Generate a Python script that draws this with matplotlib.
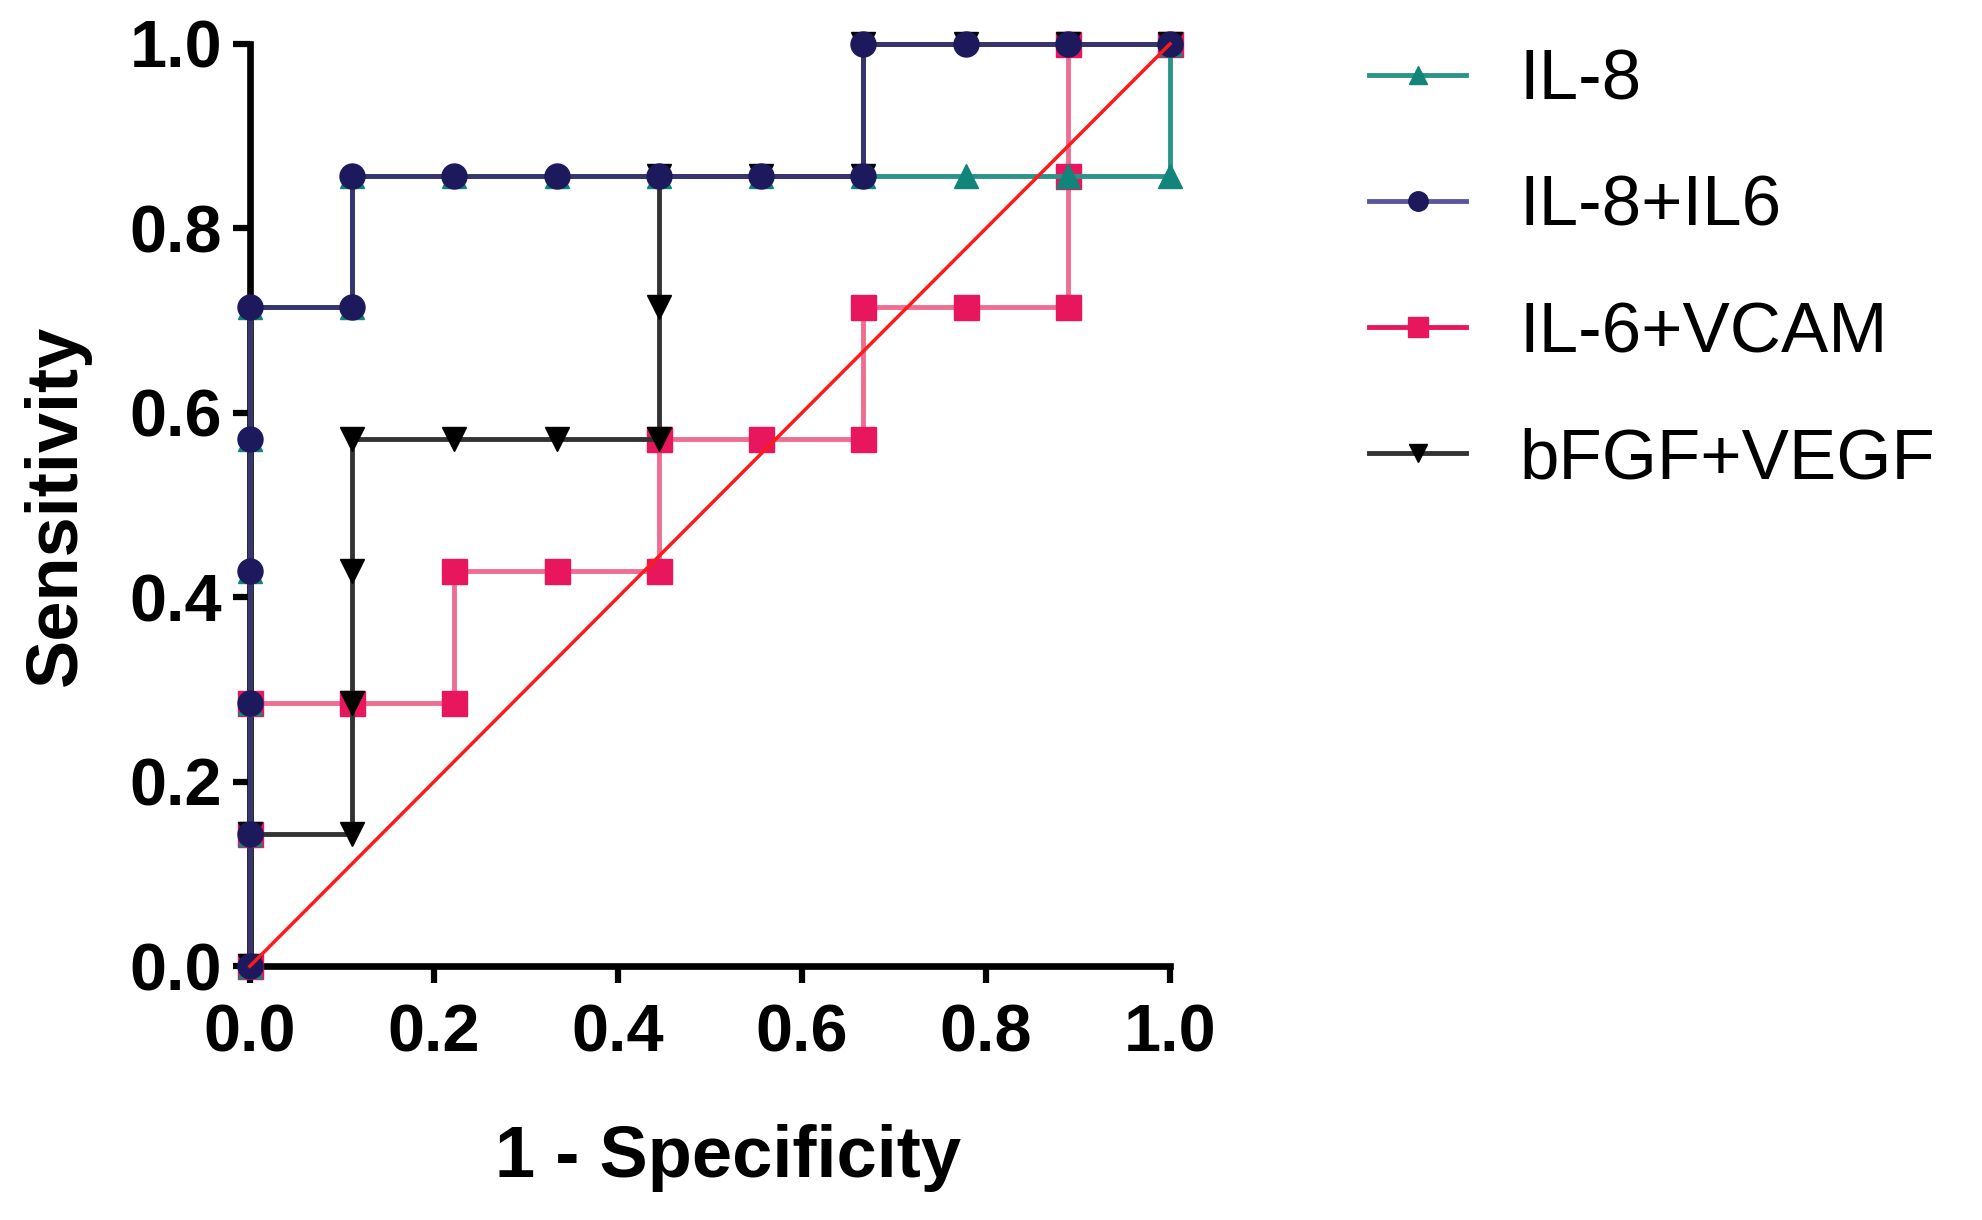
import matplotlib
matplotlib.use("Agg")
import matplotlib.pyplot as plt
from matplotlib.lines import Line2D

plt.rcParams['font.family'] = ['Liberation Sans', 'DejaVu Sans']

# Data (1 - specificity, sensitivity)
il8_x = [0, 0, 0, 0, 0, 0, 1/9, 1/9, 2/9, 3/9, 4/9, 5/9, 6/9, 7/9, 8/9, 1, 1]
il8_y = [0, 1/7, 2/7, 3/7, 4/7, 5/7, 5/7, 6/7, 6/7, 6/7, 6/7, 6/7, 6/7, 6/7, 6/7, 6/7, 1]

il8il6_x = [0, 0, 0, 0, 0, 0, 1/9, 1/9, 2/9, 3/9, 4/9, 5/9, 6/9, 6/9, 7/9, 8/9, 1]
il8il6_y = [0, 1/7, 2/7, 3/7, 4/7, 5/7, 5/7, 6/7, 6/7, 6/7, 6/7, 6/7, 6/7, 1, 1, 1, 1]

il6vcam_x = [0, 0, 0, 1/9, 2/9, 2/9, 3/9, 4/9, 4/9, 5/9, 6/9, 6/9, 7/9, 8/9, 8/9, 8/9, 1]
il6vcam_y = [0, 1/7, 2/7, 2/7, 2/7, 3/7, 3/7, 3/7, 4/7, 4/7, 4/7, 5/7, 5/7, 5/7, 6/7, 1, 1]

bfgf_x = [0, 0, 1/9, 1/9, 1/9, 1/9, 2/9, 3/9, 4/9, 4/9, 4/9, 5/9, 6/9, 6/9, 7/9, 8/9, 1]
bfgf_y = [0, 1/7, 1/7, 2/7, 3/7, 4/7, 4/7, 4/7, 4/7, 5/7, 6/7, 6/7, 6/7, 1, 1, 1, 1]

labels = ["IL-8", "IL-8+IL6", "IL-6+VCAM", "bFGF+VEGF"]
ticks = [0.0, 0.2, 0.4, 0.6, 0.8, 1.0]

fig = plt.figure(figsize=(19.83, 12.20), dpi=100)
ax = fig.add_axes([0.126, 0.208, 0.464, 0.756])

teal = "#11857a"
navy = "#1c1a5c"
pink = "#e8175d"
black = "#000000"

ax.plot(il6vcam_x, il6vcam_y, color="#f06d92", lw=3.5, marker="s", ms=18,
        mfc=pink, mec=pink, zorder=3, clip_on=False)
ax.plot(il8_x, il8_y, color="#2a9488", lw=3.5, marker="^", ms=17,
        mfc=teal, mec=teal, zorder=4, clip_on=False)
ax.plot(bfgf_x, bfgf_y, color="#333333", lw=3.5, marker="v", ms=17,
        mfc=black, mec=black, zorder=5, clip_on=False)
ax.plot(il8il6_x, il8il6_y, color="#37346e", lw=3.5, marker="o", ms=18,
        mfc=navy, mec=navy, zorder=6, clip_on=False)
ax.plot([0, 1], [0, 1], color="#ff1a1a", lw=2.5, zorder=7, clip_on=False)

ax.set_xlim(0, 1)
ax.set_ylim(0, 1)
ax.set_xticks(ticks)
ax.set_yticks(ticks)
ax.set_xticklabels([f"{t:.1f}" for t in ticks], fontsize=48, fontweight="bold")
ax.set_yticklabels([f"{t:.1f}" for t in ticks], fontsize=48, fontweight="bold")
ax.tick_params(direction="out", length=12, width=4.5, pad=8)
ax.tick_params(axis="x", pad=15)
for s in ["top", "right"]:
    ax.spines[s].set_visible(False)
for s in ["left", "bottom"]:
    ax.spines[s].set_linewidth(4.8)
ax.set_xlabel("1 - Specificity", fontsize=52, fontweight="bold", labelpad=42)
ax.xaxis.label.set_x(0.52)
ax.set_ylabel("Sensitivity", fontsize=52, fontweight="bold", labelpad=28)

handles = [
    Line2D([], [], color="#2a9488", lw=3.5, marker="^", ms=13, mfc=teal, mec=teal),
    Line2D([], [], color="#5a57a0", lw=3.5, marker="o", ms=14, mfc=navy, mec=navy),
    Line2D([], [], color=pink, lw=3.5, marker="s", ms=14, mfc=pink, mec=pink),
    Line2D([], [], color="#333333", lw=3.5, marker="v", ms=13, mfc=black, mec=black),
]
fig.legend(handles, labels, loc="upper left", bbox_to_anchor=(0.669, 0.995),
           frameon=False, fontsize=51, handlelength=1.37, handletextpad=0.75,
           labelspacing=0.85, borderaxespad=0.2)

fig.savefig("out.png", dpi=100)
